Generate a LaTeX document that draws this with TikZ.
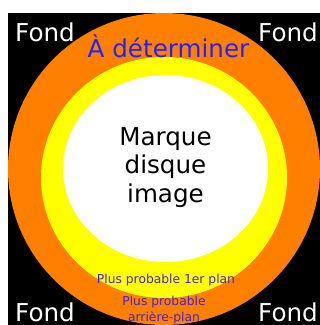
\documentclass[tikz,border=0pt]{standalone}
\usepackage{fontspec}
\setmainfont{DejaVu Sans}
\usepackage{tikz}
\definecolor{ringcolor}{HTML}{FF7F00}
\definecolor{bandcolor}{HTML}{FFFF00}
\definecolor{titlecolor}{HTML}{2222FF}
\definecolor{notecolor}{HTML}{4422CC}

\begin{document}
\begin{tikzpicture}[x=.03cm,y=-.03cm,inner sep=0pt,
    big/.style={font=\fontsize{21}{24.3}\selectfont},
    small/.style={font=\fontsize{10.5}{13.6}\selectfont,text=notecolor}]
  \useasboundingbox (0,0) rectangle (320,325);
  \fill[black] (8,13) rectangle (320,325);
  \begin{scope}
    \clip (8,13) rectangle (320,325);
    \fill[ringcolor] (164,169) ellipse [x radius=156,y radius=156];
  \end{scope}
  \fill[bandcolor] (164,177.5) ellipse [x radius=123,y radius=120.5];
  \fill[white] (165.5,168.5) ellipse [x radius=102.5,y radius=93.5];
  \node[big,text=white,anchor=base west] (fondtl) at (15,41) {Fond};
  \node[big,text=white,anchor=base east] (fondtr) at (318,41) {Fond};
  \node[big,text=white,anchor=base west] (fondbl) at (15,321) {Fond};
  \node[big,text=white,anchor=base east] (fondbr) at (318,321) {Fond};
  \node[big,text=titlecolor,anchor=base] (title) at (168.5,57) {À déterminer};
  \node[big,align=center] (mark) at (165.5,167.5) {Marque\\disque\\image};
  \node[small,anchor=base] (fore) at (166,283) {Plus probable 1er plan};
  \node[small,align=center,anchor=base] (back) at (164,321) {Plus probable\\arrière-plan};
\end{tikzpicture}
\end{document}
